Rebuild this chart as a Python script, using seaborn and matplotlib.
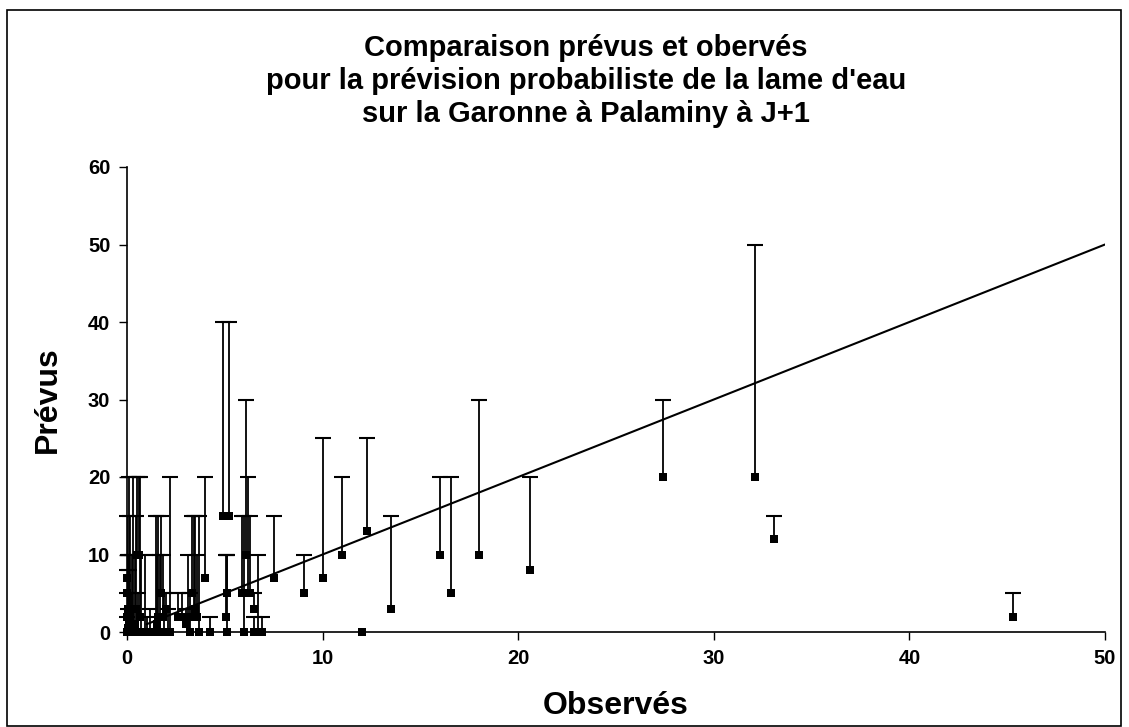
import numpy as np
import pandas as pd
import matplotlib
matplotlib.use("Agg")
import matplotlib.pyplot as plt
import seaborn as sns
from matplotlib.patches import Rectangle

# Observed values (x), forecast median (y), forecast upper bound (cap)
observes = [0.0, 0.05, 0.1, 0.0, 0.05, 0.0, 0.0, 0.1, 0.15, 0.2, 0.25, 0.3, 0.2, 0.1,
            0.45, 0.5, 0.6, 0.65, 0.7, 0.55, 0.4,
            0.9, 1.0, 1.2,
            1.5, 1.55, 1.6, 1.7, 1.75, 1.85, 1.9, 2.0, 2.2, 2.1,
            2.6, 2.8, 3.0, 3.1, 3.2, 3.3, 3.45, 3.5, 3.6, 3.7,
            4.0, 4.25,
            4.9, 5.2, 5.1, 5.05, 5.1,
            5.9, 6.0, 6.1, 6.2, 6.3, 6.5, 6.5, 6.7, 6.9,
            7.5, 9.05, 10.0, 11.0, 12.0, 12.25, 13.5, 16.0, 16.55, 18.0, 20.6,
            27.4, 32.1, 33.1, 45.3]
prevus = [0, 0.5, 1, 2, 3, 5, 7, 0, 2, 1, 0, 3, 0.5, 1.5,
          3, 10, 10, 2, 0, 0, 1,
          0, 0, 0,
          0, 1, 2, 0, 5, 2, 0, 3, 0, 0,
          2, 2, 1, 2, 0, 5, 2, 3, 2, 0,
          7, 0,
          15, 15, 5, 2, 0,
          5, 0, 10, 5, 5, 3, 0, 0, 0,
          7, 5, 7, 10, 0, 13, 3, 10, 5, 10, 8,
          20, 20, 12, 2]
prevus_max = [2, 3, 8, 5, 10, 15, 8, 20, 15, 3, 10, 20, 5, 10,
              15, 20, 20, 20, 10, 5, 10,
              10, 2, 3,
              15, 10, 15, 10, 15, 10, 5, 5, 20, 3,
              5, 5, 3, 10, 5, 15, 15, 15, 10, 15,
              20, 2,
              40, 40, 10, 10, 10,
              15, 15, 30, 20, 15, 5, 2, 10, 2,
              15, 10, 25, 20, 0, 25, 15, 20, 20, 30, 20,
              30, 50, 15, 5]

x_ticks = [0, 10, 20, 30, 40, 50]
y_ticks = [0, 10, 20, 30, 40, 50, 60]
diag = [1, 50]

df = pd.DataFrame({"Observés": observes, "Prévus": prevus, "Max": prevus_max})

sns.set_style("white")
plt.rcParams["font.family"] = ["Liberation Sans", "DejaVu Sans"]
plt.rcParams["text.color"] = "black"
plt.rcParams["axes.labelcolor"] = "black"
plt.rcParams["xtick.color"] = "black"
plt.rcParams["ytick.color"] = "black"

fig = plt.figure(figsize=(11.29, 7.27), dpi=100)
ax = fig.add_axes([127 / 1129, 95 / 727, 978 / 1129, 465 / 727])

# upper error bars with caps only at the top
bars = df[df["Max"] > df["Prévus"]]
ax.vlines(bars["Observés"], bars["Prévus"], bars["Max"], color="black", lw=1.3, zorder=2)
ax.plot(bars["Observés"], bars["Max"], ls="none", marker="_", ms=11, mew=1.5,
        color="black", zorder=2, clip_on=False)

# y = x line
sns.lineplot(x=diag, y=diag, ax=ax, color="black", lw=1.5, zorder=3)

sns.scatterplot(data=df, x="Observés", y="Prévus", ax=ax, marker="s", s=30,
                color="black", edgecolor="black", linewidth=0, zorder=4, clip_on=False)

ax.set_xlim(0, 50)
ax.set_ylim(0, 60)
ax.set_xticks(x_ticks)
ax.set_yticks(y_ticks)
for lab in ax.get_xticklabels() + ax.get_yticklabels():
    lab.set_fontweight("bold")
    lab.set_fontsize(14.5)
ax.tick_params(axis="both", direction="out", length=6, width=1, color="black",
               bottom=True, left=True, pad=6)
sns.despine(ax=ax)
for sp in ["left", "bottom"]:
    ax.spines[sp].set_color("black")
    ax.spines[sp].set_linewidth(1.2)

ax.set_xlabel("Observés", fontsize=23, fontweight="bold", labelpad=17)
ax.set_ylabel("Prévus", fontsize=23, fontweight="bold", labelpad=18)

fig.text(586 / 1129, 1 - 81 / 727,
         "Comparaison prévus et obervés\npour la prévision probabiliste de la lame d'eau\nsur la Garonne à Palaminy à J+1",
         ha="center", va="center", fontsize=21, fontweight="bold", linespacing=1.25)

fig.patches.append(Rectangle((7 / 1129, 1 / 727), 1114 / 1129, 716 / 727,
                             transform=fig.transFigure, fill=False,
                             edgecolor="black", lw=1.2))

fig.savefig("out.png", dpi=100)
